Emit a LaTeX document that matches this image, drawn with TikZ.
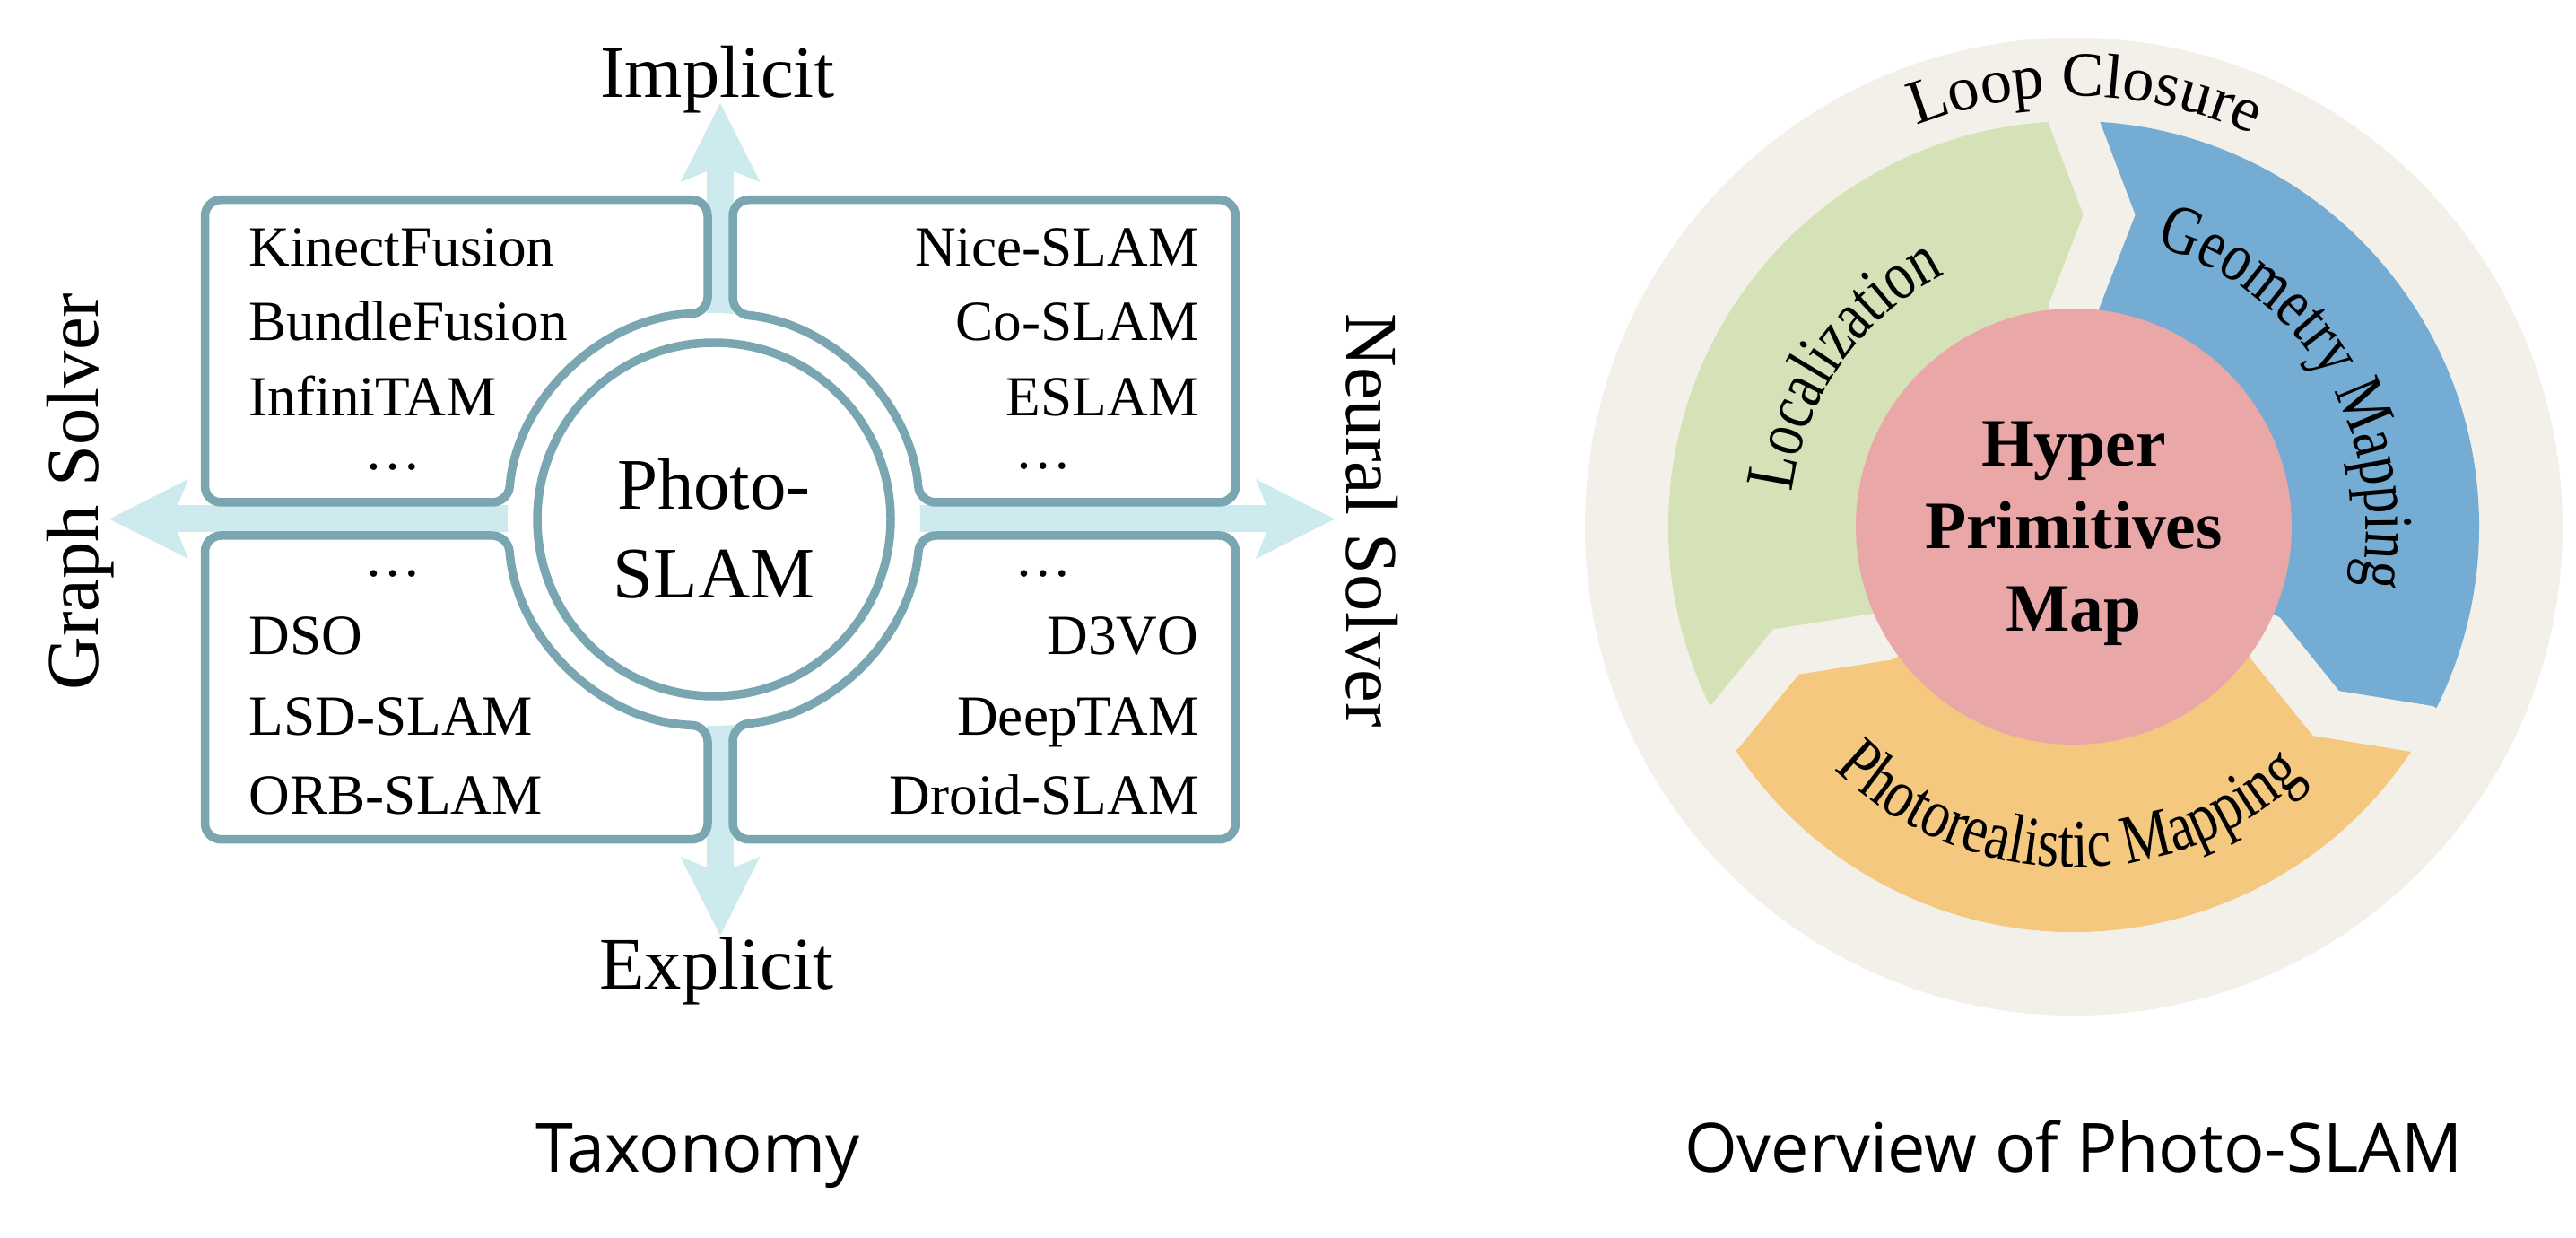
\documentclass[tikz,border=0pt]{standalone}
\usepackage{fontspec}
\setmainfont{Liberation Serif}
\newfontfamily\capfont{Open Sans}
\newfontfamily\arcserif[FakeStretch=0.8]{Liberation Serif}
\usepackage{xcolor}
\usepackage{tikz}
\usetikzlibrary{arrows.meta,positioning,decorations.text}
\definecolor{frameteal}{RGB}{121,166,177}
\definecolor{axisblue}{RGB}{205,234,239}
\definecolor{ringbeige}{RGB}{242,240,233}
\definecolor{locgreen}{RGB}{213,226,183}
\definecolor{geoblue}{RGB}{116,172,212}
\definecolor{photoorange}{RGB}{244,200,126}
\definecolor{hubpink}{RGB}{234,167,168}
\newcommand{\axisfont}{\fontsize{23.5}{28}\selectfont}
\newcommand{\listfont}{\fontsize{18}{24.5}\selectfont}
\newcommand{\arcfont}{\arcserif\fontsize{22}{26}\selectfont}
\newcommand{\loopfont}{\fontsize{20}{23}\selectfont}
\newcommand{\hubfont}{\fontsize{21.5}{26.2}\selectfont\bfseries}
\newcommand{\capsize}{\fontsize{21.5}{26}\selectfont\capfont}

\begin{document}
\begin{tikzpicture}[
  every node/.style={inner sep=0pt},
  catbox/.style={draw=frameteal, fill=white, line width=0.95mm, rounded corners=1.8mm},
  core/.style={circle, draw=frameteal, fill=white, line width=0.95mm, minimum size=39.4mm},
  axis/.style={draw=axisblue, line width=3mm,
    arrows={Stealth[length=8.8mm, width=8.9mm, inset=1.8mm, line width=0pt]-Stealth[length=8.8mm, width=8.9mm, inset=1.8mm, line width=0pt]}},
  axislbl/.style={font=\axisfont, anchor=base},
  listtxt/.style={font=\listfont},
  gapband/.style={draw=ringbeige, line width=5.4mm, line join=miter},
  hubnode/.style={circle, fill=hubpink, minimum size=48.6mm},
  arclbl/.style={decorate, decoration={text along path, text align=center, text={#1}}},
  caption/.style={font=\capsize, anchor=base}
]
\useasboundingbox (0,0) rectangle (28.72,13.79);
\fill[white] (0,0) rectangle (28.72,13.79);

% taxonomy: two axes through the centre
\coordinate (west) at (1.22,8.005);
\coordinate (east) at (14.88,8.005);
\coordinate (north) at (8.03,12.64);
\coordinate (south) at (8.03,3.36);
\draw[axis] (west) -- (east);
\draw[axis] (north) -- (south);
\fill[white] (7.96,8.00) circle[radius=2.3];

% four quadrant boxes, cut by the ring
\draw[catbox] (5,11.563) -- (2.285,11.563) -- (2.285,8.19) -- (5.668,8.19)
  arc[start angle=175.26, end angle=91.74, radius=2.3] -- (7.89,11.563) -- cycle;
\draw[catbox] (11,11.563) -- (13.775,11.563) -- (13.775,8.19) -- (10.252,8.19)
  arc[start angle=4.74, end angle=84.76, radius=2.3] -- (8.17,11.563) -- cycle;
\draw[catbox] (11,4.433) -- (13.775,4.433) -- (13.775,7.82) -- (10.253,7.82)
  arc[start angle=-4.49, end angle=-84.76, radius=2.3] -- (8.17,4.433) -- cycle;
\draw[catbox] (5,4.433) -- (2.285,4.433) -- (2.285,7.82) -- (5.667,7.82)
  arc[start angle=184.49, end angle=268.26, radius=2.3] -- (7.89,4.433) -- cycle;

\node[core] (core) at (7.96,8.00) {};
\node[font=\fontsize{23}{28.2}\selectfont, align=center] (coretxt) at (7.96,7.90) {Photo-\\SLAM};

\node[axislbl] (implicit) at (8.00,12.70) {Implicit};
\node[axislbl] (explicit) at (7.99,2.77) {Explicit};
\node[axislbl, rotate=90] (graph) at (1.10,8.31) {Graph Solver};
\node[axislbl, rotate=-90] (neural) at (15.01,7.99) {Neural Solver};

\node[listtxt, anchor=base west] (kinect) at (2.77,10.82) {KinectFusion};
\node[listtxt, anchor=base west] (bundle) at (2.77,9.99) {BundleFusion};
\node[listtxt, anchor=base west] (infini) at (2.77,9.15) {InfiniTAM};
\node[listtxt, anchor=base] (tldots) at (4.38,8.55) {…};

\node[listtxt, anchor=base east] (nice) at (13.37,10.82) {Nice-SLAM};
\node[listtxt, anchor=base east] (coslam) at (13.37,9.99) {Co-SLAM};
\node[listtxt, anchor=base east] (eslam) at (13.37,9.15) {ESLAM};
\node[listtxt, anchor=base] (trdots) at (11.63,8.56) {…};

\node[listtxt, anchor=base] (bldots) at (4.38,7.36) {…};
\node[listtxt, anchor=base west] (dso) at (2.77,6.49) {DSO};
\node[listtxt, anchor=base west] (lsd) at (2.77,5.60) {LSD-SLAM};
\node[listtxt, anchor=base west] (orb) at (2.77,4.72) {ORB-SLAM};

\node[listtxt, anchor=base] (brdots) at (11.63,7.36) {…};
\node[listtxt, anchor=base east] (d3vo) at (13.37,6.49) {D3VO};
\node[listtxt, anchor=base east] (deeptam) at (13.37,5.60) {DeepTAM};
\node[listtxt, anchor=base east] (droid) at (13.37,4.72) {Droid-SLAM};

% overview: ring of three modules around the map
\begin{scope}[shift={(23.12,7.92)}]
\fill[ringbeige] (0,0) circle[radius=5.45];
\fill[locgreen] (210:2.2) -- (210:2.45) -- (203.5:3.5) -- (210:4.52)
  arc[start angle=210, end angle=90, radius=4.52] -- (83.5:3.5) -- (90:2.45) -- (90:2.2)
  arc[start angle=90, end angle=210, radius=2.2] -- cycle;
\fill[geoblue] (90:2.2) -- (90:2.45) -- (83.5:3.5) -- (90:4.52)
  arc[start angle=90, end angle=-30, radius=4.52] -- (-36.5:3.5) -- (-30:2.45) -- (-30:2.2)
  arc[start angle=-30, end angle=90, radius=2.2] -- cycle;
\fill[photoorange] (-30:2.2) -- (-30:2.45) -- (-36.5:3.5) -- (-30:4.52)
  arc[start angle=-30, end angle=-150, radius=4.52] -- (-156.5:3.5) -- (-150:2.45) -- (-150:2.2)
  arc[start angle=-150, end angle=-30, radius=2.2] -- cycle;
\draw[gapband] (90:4.9) -- (90:4.52) -- (83.5:3.5) -- (90:2.45) -- (90:2.1);
\draw[gapband] (-30:4.9) -- (-30:4.52) -- (-36.5:3.5) -- (-30:2.45) -- (-30:2.1);
\draw[gapband] (210:4.9) -- (210:4.52) -- (203.5:3.5) -- (210:2.45) -- (210:2.1);

\node[hubnode] (hub) at (0,0) {};
\node[font=\hubfont, align=center] (hubtxt) at (0,-0.08) {Hyper\\Primitives\\Map};

\path[arclbl={|\loopfont|Loop Closure}] (128.5:4.80) arc[start angle=128.5, end angle=48.5, radius=4.80];
\path[arclbl={|\arcfont|Localization}] (190:3.16) arc[start angle=190, end angle=100, radius=3.16];
\path[arclbl={|\arcfont|Geometry Mapping}] (80:3.26) arc[start angle=80, end angle=-18, radius=3.26];
\path[arclbl={|\arcfont|Photorealistic Mapping}] (209:3.8) arc[start angle=209, end angle=329, radius=3.8];
\end{scope}

\node[caption] (taxcap) at (7.78,0.73) {Taxonomy};
\node[caption] (ovcap) at (23.12,0.73) {Overview of Photo-SLAM};
\end{tikzpicture}
\end{document}
